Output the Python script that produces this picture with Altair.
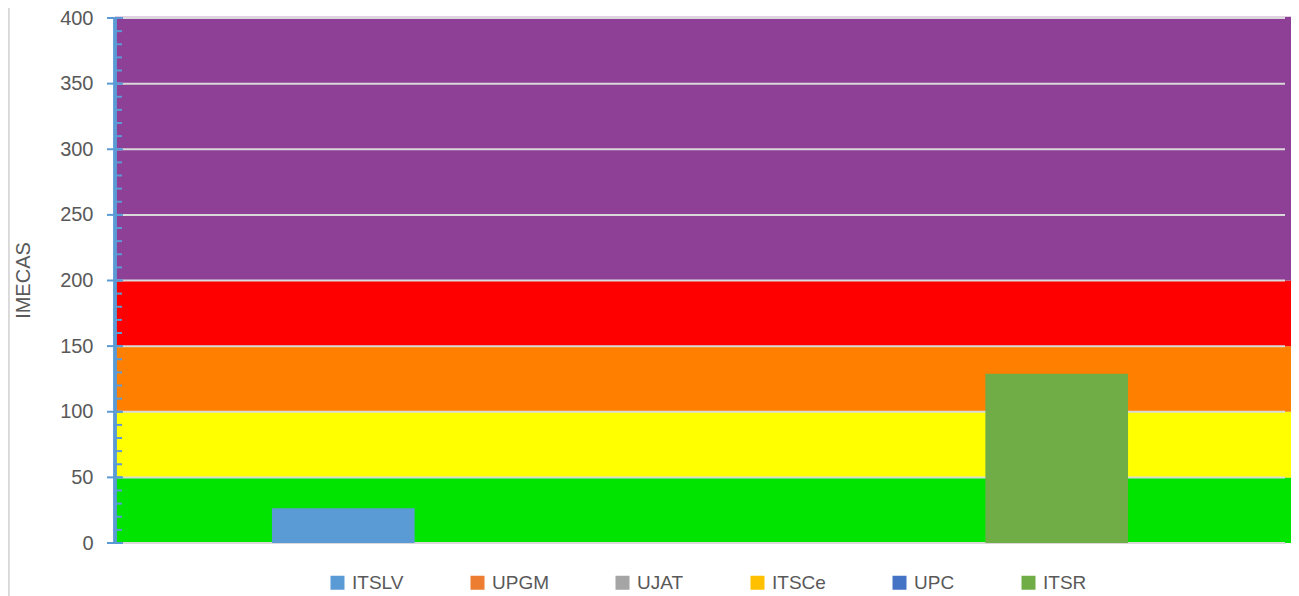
import altair as alt
import pandas as pd

# Series (one category, six series) and their values
series = ["ITSLV", "UPGM", "UJAT", "ITSCe", "UPC", "ITSR"]
values = [26.5, None, None, None, None, 129]
series_colors = ["#5B9BD5", "#ED7D31", "#A5A5A5", "#FFC000", "#4472C4", "#70AD47"]

# IMECA background bands
band_low = [0, 50, 100, 150, 200]
band_high = [50, 100, 150, 200, 401]
band_color = ["#00E400", "#FFFF00", "#FF8000", "#FF0000", "#8E3F96"]

# Axis ticks
major_ticks = [0, 50, 100, 150, 200, 250, 300, 350, 400]
minor_ticks = list(range(0, 401, 10))

W, H = 1170, 525

bars_df = pd.DataFrame({"serie": series, "valor": values, "pos": list(range(len(series)))})
bands_df = pd.DataFrame({"lo": band_low, "hi": band_high, "c": band_color})
major_df = pd.DataFrame({"t": major_ticks})
minor_df = pd.DataFrame({"t": minor_ticks})

yscale = alt.Scale(domain=[0, 400], nice=False, zero=True)
xscale = alt.Scale(domain=[-1.6, 6.6], nice=False, zero=False)

bands = alt.Chart(bands_df).mark_rect(clip=False).encode(
    x=alt.value(0),
    x2=alt.value(W + 13),
    y=alt.Y("lo:Q", scale=yscale,
            axis=alt.Axis(values=major_ticks, grid=False, ticks=False, domain=False,
                          labelPadding=22, labelFontSize=20, labelColor="#595959",
                          labelFont="Liberation Sans",
                          title="IMECAS", titleFontSize=20, titleFontWeight="normal",
                          titleColor="#595959", titleFont="Liberation Sans",
                          titleX=-92, titleY=262, titleBaseline="middle", titleAngle=270)),
    y2="hi:Q",
    color=alt.Color("c:N", scale=None),
)

grid = alt.Chart(major_df).mark_rule(color="#D9D9D9", strokeWidth=2).encode(
    x=alt.value(0), x2=alt.value(W), y=alt.Y("t:Q", scale=yscale)
)

bars = alt.Chart(bars_df).transform_calculate(
    x0="datum.pos - 0.5", x1="datum.pos + 0.5", base="0"
).mark_rect().encode(
    x=alt.X("x0:Q", scale=xscale, axis=None),
    x2="x1:Q",
    y=alt.Y("valor:Q", scale=yscale),
    y2="base:Q",
    color=alt.Color("serie:N",
                    scale=alt.Scale(domain=series, range=series_colors),
                    legend=alt.Legend(title=None, orient="none", direction="horizontal",
                                      legendX=213, legendY=555, padding=0,
                                      symbolType="square", symbolSize=196,
                                      symbolStrokeWidth=0, labelFontSize=19,
                                      labelFont="Liberation Sans", labelColor="#595959",
                                      labelOffset=5, columnPadding=64)),
)

minor = alt.Chart(minor_df).mark_rule(color="#5B9BD5", strokeWidth=2).encode(
    x=alt.value(0), x2=alt.value(7), y=alt.Y("t:Q", scale=yscale)
)
major = alt.Chart(major_df).mark_rule(color="#5B9BD5", strokeWidth=2).encode(
    x=alt.value(-8), x2=alt.value(8), y=alt.Y("t:Q", scale=yscale)
)
axis_line = alt.Chart(major_df).mark_rule(color="#5B9BD5", strokeWidth=2.5).encode(
    x=alt.value(0), y=alt.value(0), y2=alt.value(H)
)
border = alt.Chart(major_df).mark_rule(color="#D9D9D9", strokeWidth=1.5, clip=False).encode(
    x=alt.value(-106.5), y=alt.value(-20), y2=alt.value(H + 70)
)

chart = alt.layer(bands, grid, bars, minor, major, axis_line, border).properties(
    width=W, height=H,
    autosize=alt.AutoSizeParams(type="none"),
    padding={"left": 107, "top": 10, "right": 6, "bottom": 53},
).configure_view(stroke=None).configure(background="white")

chart.save("out.html", embed_options={"renderer": "svg", "actions": False})
